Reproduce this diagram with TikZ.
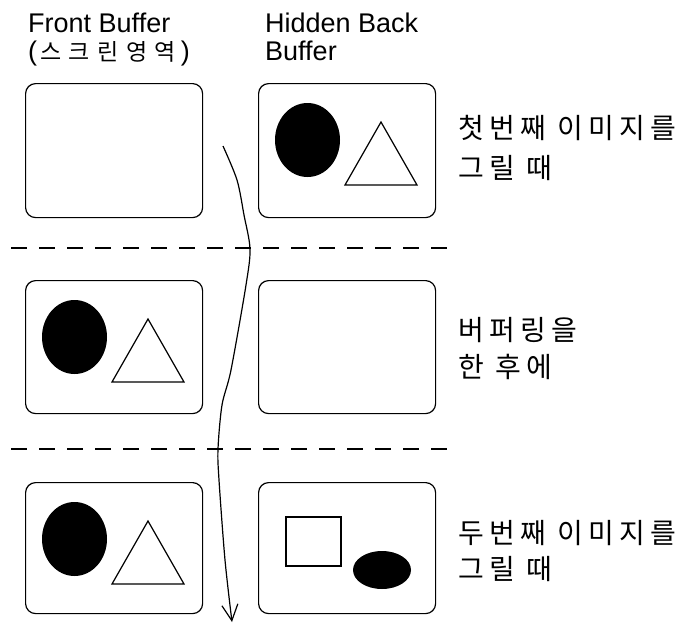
\documentclass[tikz,border=0pt]{standalone}
\usepackage{fontspec}
\setmainfont{Liberation Sans}
\newfontfamily\kr{Noto Sans CJK KR}
\newcommand\hk{\kern7.5pt}
\newcommand\lk{\kern5.2pt}
\usetikzlibrary{arrows.meta}
\tikzset{
  scr/.style={draw, line width=1.2pt, rounded corners=10pt, inner sep=0pt,
    minimum width=177pt, anchor=north west},
  hd/.style={anchor=base west, inner sep=0pt, font=\fontsize{27pt}{28pt}\selectfont},
  lb/.style={anchor=base west, inner sep=0pt, font=\fontsize{28pt}{30pt}\kr},
  sep/.style={line width=1.5pt, dash pattern=on 16pt off 12pt},
  flow/.style={line width=1.2pt, -{Straight Barb[length=16pt,width=16pt,line width=1.2pt]}},
  shp/.style={line width=1.2pt},
  ovtri/.pic={
    \fill (49.5,57) ellipse [x radius=32.5pt, y radius=37pt];
    \draw[shp, line join=miter] (123,39) -- (87,102) -- (159,102) -- cycle;
  }
}
\begin{document}
\begin{tikzpicture}[x=1pt,y=-1pt]
\useasboundingbox (0,0) rectangle (683,624);
% headings
\node[hd] (h1) at (28,32) {Front Buffer};
\node[hd] (h2) at (28,60) {(\kern3pt{\fontsize{23pt}{24pt}\kr 스\hk 크\hk 린\hk 영\hk 역}\kern5pt)};
\node[hd] (h3) at (265,32) {Hidden Back};
\node[hd] (h4) at (265,60) {Buffer};
% boxes
\node[scr, minimum height=134pt] (b11) at (25,83) {};
\node[scr, minimum height=134pt] (b12) at (258,83) {};
\node[scr, minimum height=133pt] (b21) at (25,280) {};
\node[scr, minimum height=133pt] (b22) at (258,280) {};
\node[scr, minimum height=131pt] (b31) at (25,482) {};
\node[scr, minimum height=131pt] (b32) at (258,482) {};
% contents
\pic (p12) at (b12.north west) {ovtri};
\pic (p21) at (b21.north west) {ovtri};
\pic (p31) at (b31.north west) {ovtri};
\begin{scope}[shift={(b32.north west)}]
  \draw[shp] (28,35) rectangle (83,84);
  \fill (124,88) ellipse [x radius=29pt, y radius=19pt];
\end{scope}
% separators
\coordinate (d1s) at (11,248);
\coordinate (d1e) at (452,248);
\coordinate (d2s) at (11,449);
\coordinate (d2e) at (452,449);
\draw[sep] (d1s) -- (d1e);
\draw[sep] (d2s) -- (d2e);
% labels
\node[lb] (l1a) at (458,138) {첫\lk 번\lk 째\lk\ 이\lk 미\lk 지\lk 를};
\node[lb] (l1b) at (458,178) {그\lk 릴\lk\ 때};
\node[lb] (l2a) at (458,340) {버\lk 퍼\lk 링\lk 을};
\node[lb] (l2b) at (458,377) {한\lk\ 후\lk 에};
\node[lb] (l3a) at (458,543) {두\lk 번\lk 째\lk\ 이\lk 미\lk 지\lk 를};
\node[lb] (l3b) at (458,579) {그\lk 릴\lk\ 때};
% flow arrow
\coordinate (a0) at (223,146);
\coordinate (a1) at (237,180);
\coordinate (a2) at (244,215);
\coordinate (a3) at (250,249);
\coordinate (a4) at (246,285);
\coordinate (a5) at (231,370);
\coordinate (a6) at (222,405);
\coordinate (a7) at (218,449);
\coordinate (a8) at (219,480);
\coordinate (a9) at (225,560);
\coordinate (a10) at (232,622);
\draw[flow] plot[smooth, tension=0.5] coordinates {(a0) (a1) (a2) (a3) (a4) (a5) (a6) (a7) (a8) (a9) (a10)};
\end{tikzpicture}
\end{document}
